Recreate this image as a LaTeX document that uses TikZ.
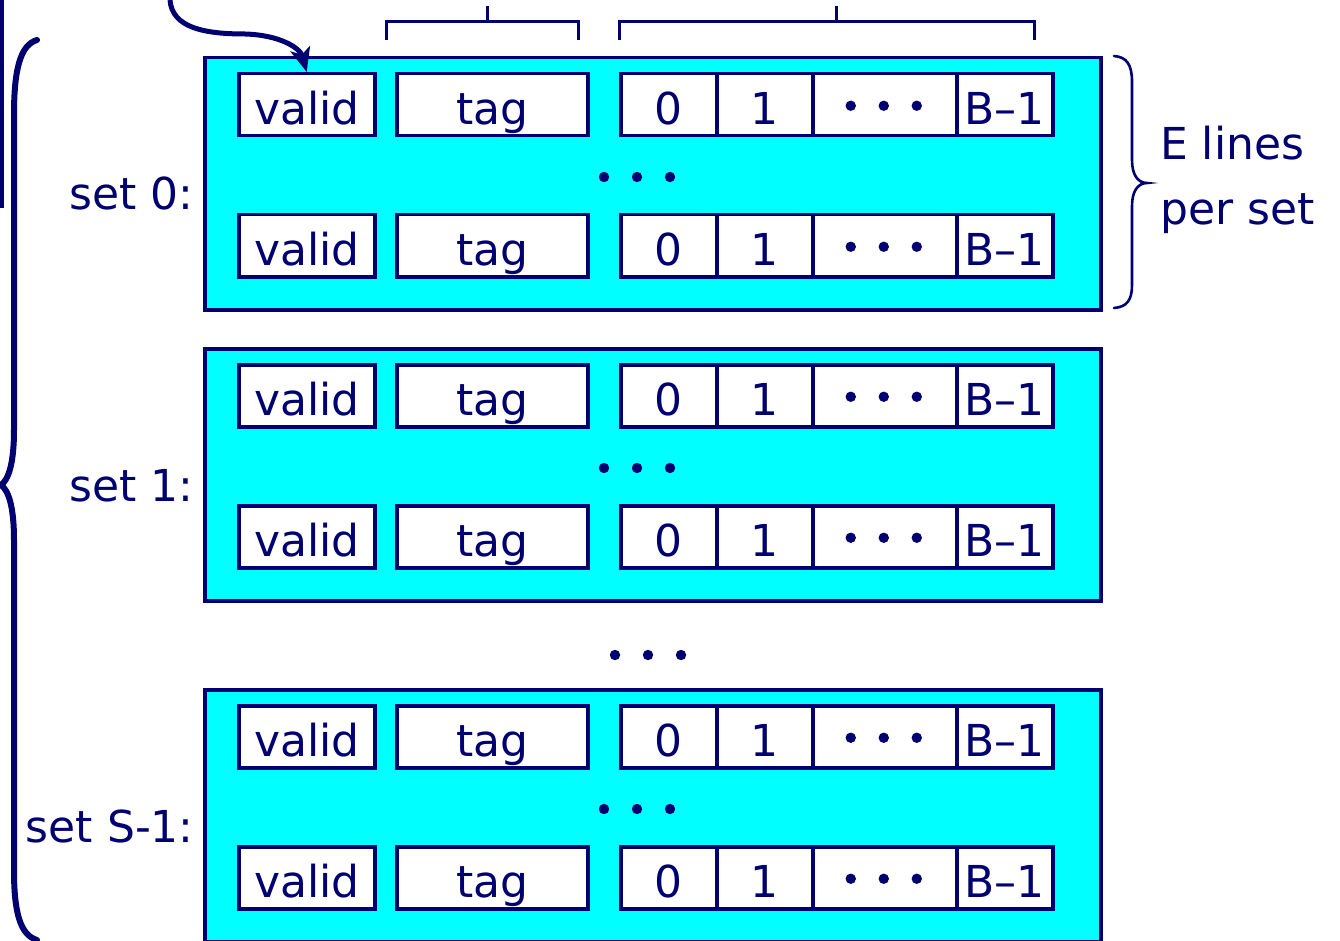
\documentclass[tikz,border=0pt]{standalone}
\usepackage{fontspec}
\setmainfont{DejaVu Sans}
\usetikzlibrary{arrows.meta}
\definecolor{navyc}{HTML}{000070}
\definecolor{cyanc}{HTML}{00FFFF}
\tikzset{
  setbox/.style={draw=navyc, line width=3.5pt, fill=cyanc, anchor=north west, inner sep=0pt},
  cell/.style={draw=navyc, line width=3.5pt, fill=white, anchor=north west, inner sep=0pt,
    minimum height=62pt, text height=40pt, text depth=0pt, text=navyc,
    font=\fontsize{44}{50}\selectfont},
  lbl/.style={inner sep=0pt, text=navyc, font=\fontsize{44}{50}\selectfont},
  bracketline/.style={draw=navyc, line width=3pt},
  bigbrace/.style={draw=navyc, line width=6pt, line cap=round},
  smallbrace/.style={draw=navyc, line width=2.6pt, line cap=round},
  dotfill/.style={fill=navyc},
}
\newcommand\cacheset[3]{%
  \node[setbox, minimum width=896pt, minimum height=252pt] (#1) at (203,#2) {};
  \foreach \r/\dy in {a/16, b/157} {
    \node[cell, minimum width=136pt] (#1-\r-valid) at (237,#2+\dy) {valid};
    \node[cell, minimum width=191pt] (#1-\r-tag) at (395,#2+\dy) {tag};
    \node[cell, minimum width=96pt] (#1-\r-d0) at (619,#2+\dy) {0};
    \node[cell, minimum width=96pt] (#1-\r-d1) at (715,#2+\dy) {1};
    \node[cell, minimum width=144pt] (#1-\r-dd) at (811,#2+\dy) {};
    \node[cell, minimum width=96pt] (#1-\r-dB) at (955,#2+\dy) {B–1};
    \fill[dotfill] (#1-\r-dd.center) ++(-34,1) circle (5.2pt);
    \fill[dotfill] (#1-\r-dd.center) ++(-1,1) circle (5.2pt);
    \fill[dotfill] (#1-\r-dd.center) ++(32,1) circle (5.2pt);
  }
  \fill[dotfill] (604,#2+121) circle (5.2pt);
  \fill[dotfill] (637,#2+121) circle (5.2pt);
  \fill[dotfill] (670,#2+121) circle (5.2pt);
  \node[lbl, anchor=base east] (#1-label) at (194,#2+154) {#3};
}
\begin{document}
\begin{tikzpicture}[x=1pt, y=-1pt]
\useasboundingbox (0,0) rectangle (1340,941);

\cacheset{s0}{56}{set 0:}
\cacheset{s1}{347}{set 1:}
\cacheset{sS}{688}{set S-1:}

% dots between set 1 and set S-1
\fill[dotfill] (615,655) circle (5.2pt);
\fill[dotfill] (648,655) circle (5.2pt);
\fill[dotfill] (681,655) circle (5.2pt);

% top brackets
\draw[bracketline] (386,40) -- (386,22) -- (578,22) -- (578,40);
\draw[bracketline] (487,22) -- (487,6);
\draw[bracketline] (619,40) -- (619,22) -- (1034,22) -- (1034,40);
\draw[bracketline] (836,22) -- (836,6);

% left partial line
\draw[draw=navyc, line width=4.5pt] (2,0) -- (2,208);

% curved arrow onto valid bit
\coordinate (arrstart) at (170,0);
\draw[draw=navyc, line width=5pt, -{Stealth[length=24pt, width=20pt, inset=6pt]}]
  (arrstart) .. controls (172,28) and (205,34) .. (245,34)
  .. controls (280,35) and (300,48) .. (s0-a-valid.north);

% left big brace
\draw[bigbrace] (37,40) .. controls (20,45) and (14,70) .. (14,115) -- (14,430)
  .. controls (14,465) and (8,480) .. (1,485)
  .. controls (8,490) and (14,505) .. (14,540) -- (14,870)
  .. controls (14,912) and (20,935) .. (37,940);

% right brace (E lines per set)
\draw[smallbrace] (1114,56) .. controls (1127,57) and (1132,65) .. (1132,82) -- (1132,160)
  .. controls (1132,175) and (1138,183) .. (1147,183)
  .. controls (1138,183) and (1132,191) .. (1132,206) -- (1132,285)
  .. controls (1132,300) and (1127,307) .. (1114,308);

\node[lbl, anchor=base west] (elines) at (1160,160) {E lines};
\node[lbl, anchor=base west] (perset) at (1160,225) {per set};
\end{tikzpicture}
\end{document}
